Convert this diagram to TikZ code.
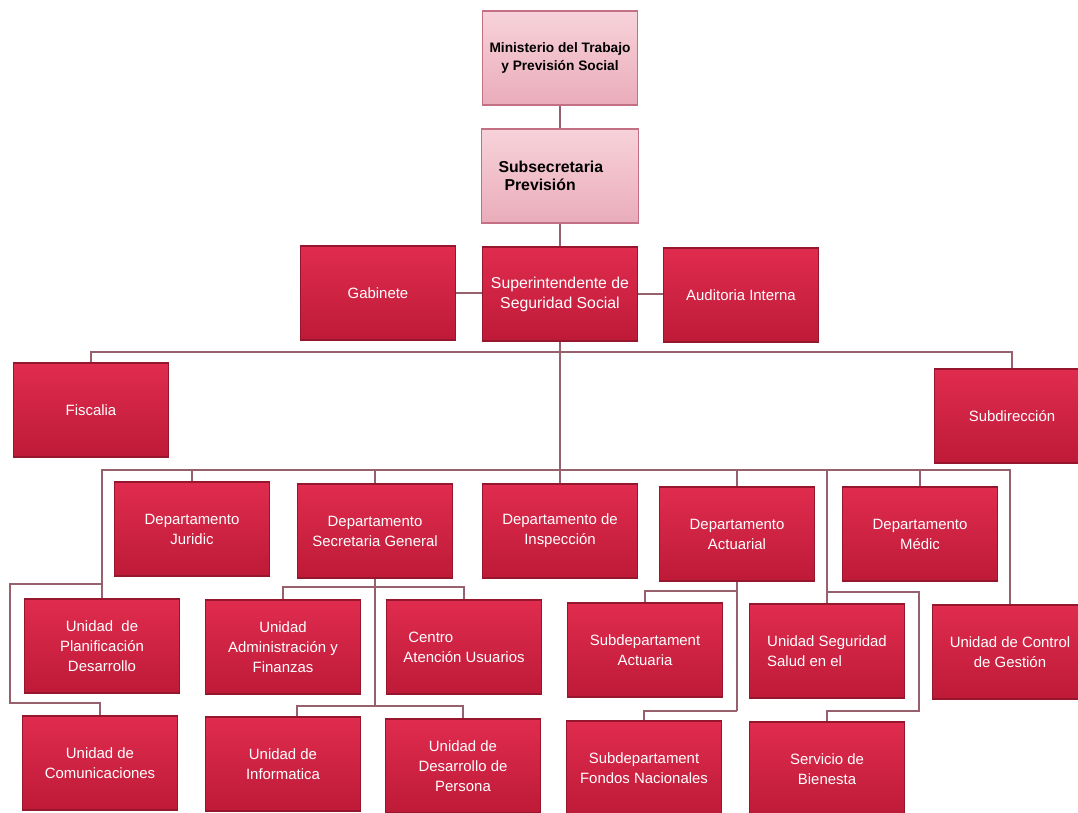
\documentclass[tikz,border=0pt]{standalone}
\usepackage{fontspec}
\setmainfont{Liberation Sans}
\definecolor{boxtop}{RGB}{224,44,78}
\definecolor{boxbot}{RGB}{190,26,56}
\definecolor{boxline}{RGB}{150,22,46}
\definecolor{pinktop}{RGB}{247,210,218}
\definecolor{pinkbot}{RGB}{234,172,186}
\definecolor{pinkline}{RGB}{196,112,132}
\definecolor{linkcol}{RGB}{150,96,108}
\tikzset{
  unitbox/.style={draw=boxline, line width=0.6pt, top color=boxtop, bottom color=boxbot,
    text=white, minimum width=3.1cm, minimum height=1.88cm, inner sep=2pt, align=center,
    font=\fontsize{8.5}{11.4}\selectfont},
  headbox/.style={unitbox, draw=pinkline, top color=pinktop, bottom color=pinkbot,
    text=black, font=\bfseries\fontsize{7.8}{10.2}\selectfont},
  link/.style={draw=linkcol, line width=1pt}
}
\begin{document}
\begin{tikzpicture}[x=0.02cm, y=-0.02cm]
\useasboundingbox[fill=white] (0,0) rectangle (1078,813);

% Top of the chart
\node[headbox] (ministerio) at (560,58) {Ministerio del Trabajo\\y Previsión Social};
\node[headbox, align=left, text width=2.46cm, inner xsep=0.34cm,
  font=\bfseries\fontsize{9}{10.4}\selectfont] (subsec) at (560,176) {Subsecretaria\\\hspace{0.12cm}Previsión};
\node[unitbox] (gabinete) at (378,293) {Gabinete};
\node[unitbox, font=\fontsize{9}{11.4}\selectfont] (super) at (560,294) {Superintendente de\\Seguridad Social};
\node[unitbox] (auditoria) at (741,295) {Auditoria Interna};
\node[unitbox] (fiscalia) at (91,410) {Fiscalia};
\node[unitbox] (subdir) at (1012,416) {Subdirección};

% Departments
\node[unitbox] (juridic) at (192,529) {Departamento\\Juridic};
\node[unitbox] (secgen) at (375,531) {Departamento\\Secretaria General};
\node[unitbox] (insp) at (560,531) {Departamento de\\Inspección};
\node[unitbox] (actuarial) at (737,534) {Departamento\\Actuarial};
\node[unitbox] (medic) at (920,534) {Departamento\\Médic};

% Units
\node[unitbox] (planif) at (102,646) {Unidad~ de\\Planificación\\Desarrollo};
\node[unitbox] (admin) at (283,647) {Unidad\\Administración y\\Finanzas};
\node[unitbox, align=left] (centro) at (464,647) {\hspace{0.1cm}Centro\\Atención Usuarios};
\node[unitbox] (subact) at (645,650) {Subdepartament\\Actuaria};
\node[unitbox, align=left] (segur) at (827,651) {Unidad Seguridad\\Salud en el};
\node[unitbox] (control) at (1010,652) {Unidad de Control\\de Gestión};
\node[unitbox] (comun) at (100,763) {Unidad de\\Comunicaciones};
\node[unitbox] (infor) at (283,764) {Unidad de\\Informatica};
\node[unitbox] (persona) at (463,766) {Unidad de\\Desarrollo de\\Persona};
\node[unitbox] (fondos) at (644,768) {Subdepartament\\Fondos Nacionales};
\node[unitbox] (bienesta) at (827,769) {Servicio de\\Bienesta};

% Connectors
\coordinate (bus1) at (560,352);
\coordinate (bus2) at (560,470);
\draw[link] (ministerio) -- (subsec);
\draw[link] (subsec) -- (super);
\draw[link] (gabinete.east) -- (gabinete.east -| super.west);
\draw[link] (super.east) -- (super.east -| auditoria.west);
\draw[link] (super.south) -- (insp.north);
\draw[link] (fiscalia.north) |- (bus1) -| (subdir.north);
\draw[link] (planif.north) |- (bus2) -| (control.north);
\draw[link] (juridic.north) -- (juridic.north |- bus2);
\draw[link] (secgen.north) -- (secgen.north |- bus2);
\draw[link] (actuarial.north) -- (actuarial.north |- bus2);
\draw[link] (medic.north) -- (medic.north |- bus2);
\draw[link] (segur.north) -- (segur.north |- bus2);

% Left loop
\coordinate (lp1) at (10,584);
\coordinate (lp2) at (10,703);
\draw[link] (planif.north |- lp1) -- (lp1) -- (lp2) -| (comun.north);

% Secretaria General
\coordinate (sgA) at (375,587);
\coordinate (sgB) at (375,706);
\draw[link] (secgen.south) -- (sgB);
\draw[link] (admin.north) |- (sgA) -| (centro.north);
\draw[link] ([xshift=0.28cm]infor.north) |- (sgB) -| (persona.north);

% Actuarial
\coordinate (acA) at (737,591);
\coordinate (acB) at (737,711);
\draw[link] (actuarial.south) -- (acB);
\draw[link] (subact.north) |- (acA);
\draw[link] (fondos.north) |- (acB);

% Right loop
\coordinate (rp1) at (919,592);
\coordinate (rp2) at (919,711);
\draw[link] (segur.north |- rp1) -- (rp1) -- (rp2) -| (bienesta.north);
\end{tikzpicture}
\end{document}
